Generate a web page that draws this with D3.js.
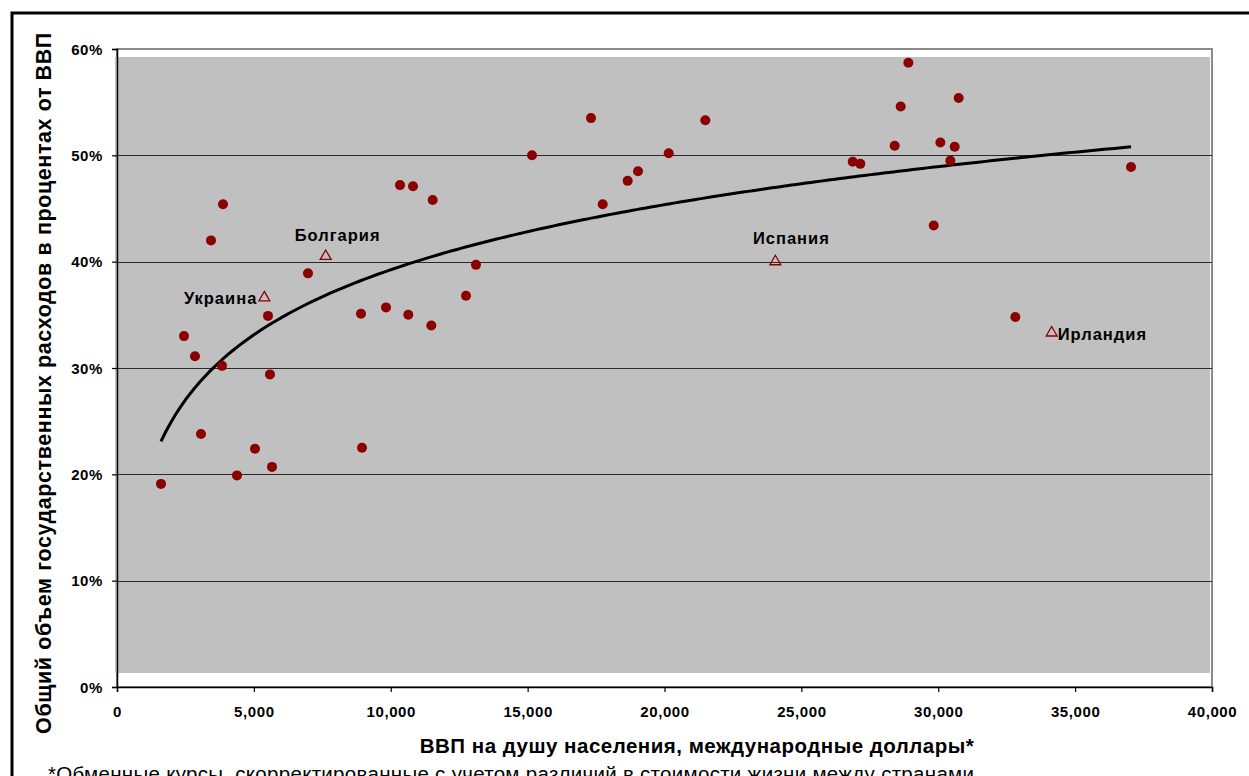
<!DOCTYPE html>
<html><head><meta charset="utf-8">
<script src="https://cdn.jsdelivr.net/npm/d3@7"></script>
<style>
html,body{margin:0;padding:0;background:#fff;overflow:hidden}
svg{display:block}
text{font-family:"Liberation Sans",Arial,sans-serif}
</style></head>
<body><svg id="c" width="1249" height="776"></svg>
<script>
// ---- data ----
const gdp = [1607,2447,2849,3068,3434,3836,3872,4383,5041,5516,5589,5662,6977,8913,8950,9827,10338,10813,10641,11532,11482,12749,13114,15160,17315,17742,18655,19033,20153,21492,26875,27153,28408,28627,28907,29834,30077,30442,30601,30746,32816,37042];
const spend = [19.1,33.0,31.1,23.8,42.0,30.2,45.4,19.9,22.4,34.9,29.4,20.7,38.9,35.1,22.5,35.7,47.2,47.1,35.0,45.8,34.0,36.8,39.7,50.0,53.5,45.4,47.6,48.5,50.2,53.3,49.4,49.2,50.9,54.6,58.7,43.4,51.2,49.5,50.8,55.4,34.8,48.9];
const hlNames = ["Украина","Болгария","Испания","Ирландия"];
const hlGdp = [5382,7623,24050,34143];
const hlSpend = [36.7,40.6,40.1,33.4];
// logarithmic trend line as shown (y = a*ln(x) + b), endpoints
const trendX = [1607,37042];
const trendY = [23.1,50.8];
const xTicks = [0,5000,10000,15000,20000,25000,30000,35000,40000];
const yTicks = [0,10,20,30,40,50,60];
const xTitle = "ВВП на душу населения, международные доллары*";
const yTitle = "Общий объем государственных расходов в процентах от ВВП";
const footnote = "*Обменные курсы, скорректированные с учетом различий в стоимости жизни между странами";

// ---- chart ----
const svg = d3.select("#c");
const x = d3.scaleLinear().domain([0,40000]).range([117,1212]);
const y = d3.scaleLinear().domain([0,60]).range([687,49]);

// outer frame
svg.append("rect").attr("x",12).attr("y",13).attr("width",1300).attr("height",800)
  .attr("fill","none").attr("stroke","#000").attr("stroke-width",3);

// plot frame
svg.append("rect").attr("x",x(0)).attr("y",y(60)).attr("width",x(40000)-x(0)).attr("height",y(0)-y(60))
  .attr("fill","#fff").attr("stroke","#8a8a8a").attr("stroke-width",2);
// gray fill
svg.append("rect").attr("x",x(0)-2).attr("y",57).attr("width",x(40000)-x(0)).attr("height",673-57)
  .attr("fill","#c0c0c0");

// gridlines
svg.append("g").selectAll("line").data(yTicks.filter(d=>d>0&&d<60)).join("line")
  .attr("x1",x(0)).attr("x2",x(40000)).attr("y1",d=>Math.round(y(d))+0.5).attr("y2",d=>Math.round(y(d))+0.5)
  .attr("stroke","#2a2a2a").attr("stroke-width",1);

// axes
const yAxis = d3.axisLeft(y).tickValues(yTicks).tickFormat(d=>d+"%").tickSize(5).tickPadding(9);
const gy = svg.append("g").attr("transform",`translate(${x(0)},0)`).call(yAxis);
const xAxis = d3.axisBottom(x).tickValues(xTicks).tickFormat(d=>d===0?"0":d3.format(",")(d)).tickSize(5).tickPadding(14);
const gx = svg.append("g").attr("transform",`translate(0,${y(0)})`).call(xAxis);
[gx,gy].forEach(g=>{
  g.select(".domain").attr("stroke","#000").attr("stroke-width",1.5);
  g.selectAll(".tick line").attr("stroke","#000").attr("stroke-width",1.2);
  g.selectAll(".tick text").attr("fill","#000").style("font-size","15px").style("font-weight","bold")
    .style("font-family","'Liberation Sans',Arial,sans-serif").style("letter-spacing","0.6px");
});
gy.selectAll(".tick text").attr("dy","0.35em");

// trend
const a = (trendY[1]-trendY[0])/(Math.log(trendX[1])-Math.log(trendX[0]));
const b = trendY[0]-a*Math.log(trendX[0]);
const samples = d3.range(0,201).map(i=>trendX[0]+(trendX[1]-trendX[0])*i/200);
svg.append("path").datum(samples)
  .attr("d",d3.line().x(d=>x(d)).y(d=>y(a*Math.log(d)+b)))
  .attr("fill","none").attr("stroke","#000").attr("stroke-width",3);

// circles
svg.append("g").selectAll("circle").data(gdp.map((g,i)=>[g,spend[i]])).join("circle")
  .attr("cx",d=>x(d[0])).attr("cy",d=>y(d[1])).attr("r",5).attr("fill","#8b0000");

// triangles
const tri = d3.symbol().type(d3.symbolTriangle).size(52);
const hl = hlNames.map((nm,i)=>({nm,gx:hlGdp[i],sp:hlSpend[i]}));
svg.append("g").selectAll("path").data(hl).join("path")
  .attr("transform",d=>`translate(${x(d.gx)},${y(d.sp)+1})`).attr("d",tri)
  .attr("fill","none").attr("stroke","#8b0000").attr("stroke-width",1.3);

// labels
const lab = {
  "Украина":{dx:-7,dy:7,anchor:"end"},
  "Болгария":{dx:12,dy:-14,anchor:"middle"},
  "Испания":{dx:16,dy:-17,anchor:"middle"},
  "Ирландия":{dx:6,dy:8,anchor:"start"}
};
svg.append("g").selectAll("text").data(hl).join("text")
  .attr("x",d=>x(d.gx)+lab[d.nm].dx).attr("y",d=>y(d.sp)+lab[d.nm].dy)
  .attr("text-anchor",d=>lab[d.nm].anchor)
  .style("font-size","16.5px").style("font-weight","bold").style("letter-spacing","1px")
  .text(d=>d.nm);

// titles
svg.append("text").attr("x",697).attr("y",753).attr("text-anchor","middle")
  .style("font-size","20.5px").style("font-weight","bold").style("letter-spacing","0.5px").text(xTitle);
svg.append("text").attr("transform","translate(51,383) rotate(-90)").attr("text-anchor","middle")
  .style("font-size","21.5px").style("font-weight","bold").style("letter-spacing","0.6px").text(yTitle);
svg.append("text").attr("x",48).attr("y",781)
  .style("font-size","20.5px").style("letter-spacing","0.3px").text(footnote);
</script></body></html>
